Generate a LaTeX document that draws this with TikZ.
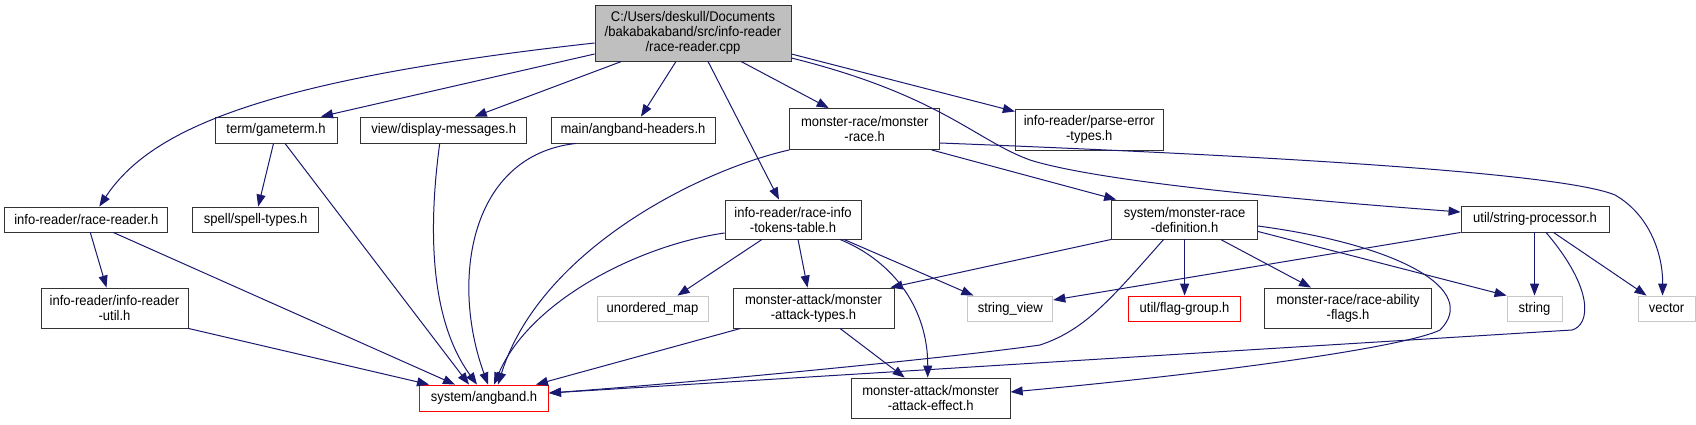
\documentclass[tikz,border=0pt]{standalone}
\usepackage{fontspec}
\setmainfont{Liberation Sans}[FakeStretch=0.93]
\usetikzlibrary{arrows.meta,positioning}
\definecolor{incEdge}{HTML}{191970}
\definecolor{incRoot}{HTML}{BFBFBF}
\definecolor{incSys}{HTML}{C8C8C8}
\definecolor{incMiss}{HTML}{FF0000}
\tikzset{
  incnode/.style={
    draw=black!80, fill=white, line width=0.9pt, inner sep=0pt,
    minimum height=26pt, align=center,
    font=\fontsize{14pt}{15pt}\selectfont
  },
  rootfile/.style={incnode, fill=incRoot, minimum height=56pt},
  twoline/.style={incnode, minimum height=40pt},
  sysfile/.style={incnode, draw=incSys, minimum height=25pt},
  missfile/.style={incnode, draw=incMiss, minimum height=25pt},
  dep/.style={-{Triangle[length=12pt,width=9pt]}, incEdge, line width=1pt}
}
\begin{document}
\begin{tikzpicture}[x=1pt,y=-1pt]
  \useasboundingbox[fill=white] (0,0) rectangle (1696,424);
  % files
  \node[rootfile, minimum width=196pt] (root) at (693,33) {C:/Users/deskull/Documents\\/bakabakaband/src/info-reader\\/race-reader.cpp};
  \node[incnode, minimum width=122pt] (gameterm) at (276,130) {term/gameterm.h};
  \node[incnode, minimum width=166pt] (dispmsg) at (443.7,130) {view/display-messages.h};
  \node[incnode, minimum width=164pt] (ahdr) at (633,130) {main/angband-headers.h};
  \node[twoline, minimum width=150pt, minimum height=41pt] (monrace) at (864.7,129) {monster-race/monster\\-race.h};
  \node[twoline, minimum width=148pt, minimum height=41pt] (parseerr) at (1089.3,129.5) {info-reader/parse-error\\-types.h};
  \node[incnode, minimum width=163pt, minimum height=25pt] (racereader) at (86.3,219.5) {info-reader/race-reader.h};
  \node[incnode, minimum width=126pt, minimum height=25pt] (spell) at (255.7,219.5) {spell/spell-types.h};
  \node[twoline, minimum width=147pt] (iru) at (114.5,308) {info-reader/info-reader\\-util.h};
  \node[missfile, minimum width=129pt, minimum height=26pt] (angband) at (484,398) {system/angband.h};
  \node[twoline, minimum width=136pt, minimum height=39pt] (raceinfo) at (793,219.5) {info-reader/race-info\\-tokens-table.h};
  \node[twoline, minimum width=146pt, minimum height=39pt] (mrdef) at (1184.6,219.5) {system/monster-race\\-definition.h};
  \node[incnode, minimum width=148pt] (strproc) at (1535,219) {util/string-processor.h};
  \node[sysfile, minimum width=111pt] (umap) at (652.5,308.5) {unordered\_map};
  \node[twoline, minimum width=161pt] (atktypes) at (813.5,308) {monster-attack/monster\\-attack-types.h};
  \node[sysfile, minimum width=85pt] (strview) at (1010.3,308.5) {string\_view};
  \node[missfile, minimum width=112pt] (flaggroup) at (1184.6,308.5) {util/flag-group.h};
  \node[twoline, minimum width=167pt] (abil) at (1348,308) {monster-race/race-ability\\-flags.h};
  \node[sysfile, minimum width=55pt] (string) at (1534.5,308.5) {string};
  \node[sysfile, minimum width=57pt] (vector) at (1666.5,308.5) {vector};
  \node[twoline, minimum width=159pt] (atkeffect) at (930.7,398) {monster-attack/monster\\-attack-effect.h};
  % includes of the root file
  \draw[dep] ([yshift=-10pt]root.west) .. controls (260,80) and (150,130) .. ([xshift=13pt]racereader.north);
  \draw[dep] ([yshift=-21pt]root.west) -- ([xshift=45pt]gameterm.north);
  \draw[dep] ([xshift=27pt]root.south west) -- ([xshift=31pt]dispmsg.north);
  \draw[dep] ([xshift=-17pt]root.south) -- ([xshift=8pt]ahdr.north);
  \draw[dep] ([xshift=15pt]root.south) -- ([xshift=-14pt]raceinfo.north);
  \draw[dep] ([xshift=48pt]root.south) -- ([xshift=-36pt]monrace.north);
  \draw[dep] ([yshift=-21pt]root.east) -- ([yshift=18pt]parseerr.west);
  \draw[dep] ([yshift=-25pt]root.east) .. controls (940,95) and (975,140) .. (1030,160)
    .. controls (1100,182) and (1300,200) .. ([yshift=7pt]strproc.west);
  % second level
  \draw[dep] ([xshift=-2.5pt]gameterm.south) -- ([xshift=2.5pt]spell.north);
  \draw[dep] ([xshift=9pt]gameterm.south) -- ([xshift=-15pt]angband.north);
  \draw[dep] ([xshift=-4pt]dispmsg.south) .. controls (428,230) and (430,320) .. ([xshift=-7pt]angband.north);
  \draw[dep] ([xshift=-57pt]ahdr.south) .. controls (470,155) and (450,280) .. ([xshift=4pt]angband.north);
  \draw[dep] ([xshift=4pt]racereader.south) -- ([xshift=-8pt]iru.north);
  \draw[dep] ([xshift=27pt]racereader.south) -- ([xshift=-29pt]angband.north);
  \draw[dep] (iru.south east) -- ([xshift=10pt]angband.north west);
  \draw[dep] (monrace.south west) .. controls (700,170) and (540,250) .. ([xshift=14pt]angband.north);
  \draw[dep] ([xshift=67pt]monrace.south) -- ([xshift=5pt]mrdef.north west);
  \draw[dep] ([yshift=-14pt]monrace.east) .. controls (1250,155) and (1560,172) .. (1615,195)
    .. controls (1650,215) and (1663,255) .. ([xshift=-4pt]vector.north);
  \draw[dep] ([yshift=-13.5pt]raceinfo.west) .. controls (640,245) and (530,300) .. ([xshift=10pt]angband.north);
  \draw[dep] ([xshift=-31pt]raceinfo.south) -- ([xshift=25pt]umap.north);
  \draw[dep] ([xshift=5pt]raceinfo.south) -- ([xshift=-6pt]atktypes.north);
  \draw[dep] ([xshift=47pt]raceinfo.south) .. controls (895,262) and (928,310) .. ([xshift=-3pt]atkeffect.north);
  \draw[dep] ([xshift=51pt]raceinfo.south) -- ([xshift=6pt]strview.north west);
  \draw[dep] (mrdef.south west) -- ([xshift=-4pt]atktypes.north east);
  \draw[dep] ([xshift=-21pt]mrdef.south) .. controls (1110,300) and (1085,330) .. (1040,345)
    .. controls (950,358) and (700,382) .. ([yshift=5pt]angband.east);
  \draw[dep] (mrdef.south) -- (flaggroup.north);
  \draw[dep] ([xshift=36pt]mrdef.south) -- ([xshift=-37pt]abil.north);
  \draw[dep] ([yshift=-12pt]mrdef.east) -- (string.north west);
  \draw[dep] ([yshift=-6.5pt]mrdef.east) .. controls (1400,245) and (1480,290) .. (1440,330)
    .. controls (1410,345) and (1250,370) .. ([yshift=6pt]atkeffect.east);
  \draw[dep] (strproc.south west) -- ([yshift=8.5pt]strview.east);
  \draw[dep] (string.north |- strproc.south) -- (string.north);
  \draw[dep] ([xshift=18.5pt]strproc.south) -- ([xshift=9pt]vector.north west);
  \draw[dep] ([xshift=11pt]strproc.south) .. controls (1595,290) and (1590,325) .. (1572,330)
    -- ([yshift=5pt]angband.east);
  \draw[dep] ([xshift=8pt]atktypes.south west) -- ([xshift=-13pt]angband.north east);
  \draw[dep] ([xshift=26.5pt]atktypes.south) -- ([xshift=-26pt]atkeffect.north);
\end{tikzpicture}
\end{document}
